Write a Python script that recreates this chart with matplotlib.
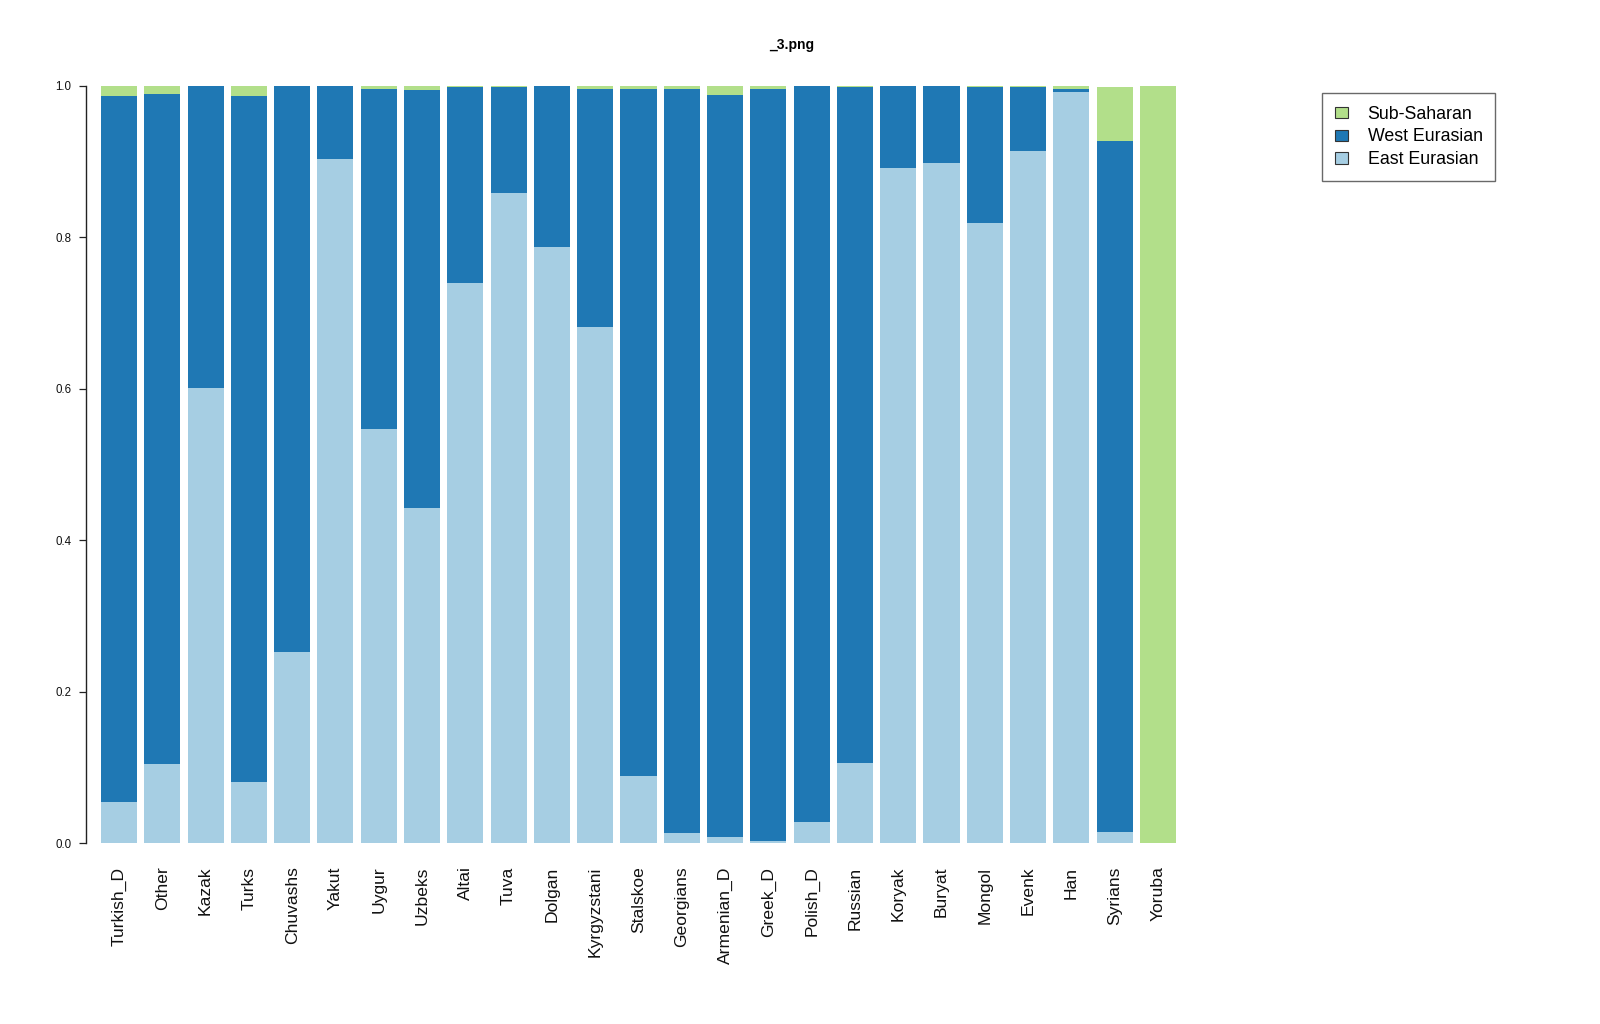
import numpy as np
import matplotlib
matplotlib.use("Agg")
import matplotlib.pyplot as plt
from matplotlib.patches import Patch

plt.rcParams['font.family'] = ['Liberation Sans', 'DejaVu Sans']

populations = ["Turkish_D", "Other", "Kazak", "Turks", "Chuvashs", "Yakut", "Uygur",
               "Uzbeks", "Altai", "Tuva", "Dolgan", "Kyrgyzstani", "Stalskoe",
               "Georgians", "Armenian_D", "Greek_D", "Polish_D", "Russian", "Koryak",
               "Buryat", "Mongol", "Evenk", "Han", "Syrians", "Yoruba"]

east = [0.054, 0.105, 0.601, 0.081, 0.252, 0.904, 0.547, 0.443, 0.740, 0.858,
        0.787, 0.681, 0.089, 0.013, 0.008, 0.003, 0.028, 0.106, 0.892, 0.898,
        0.819, 0.914, 0.992, 0.015, 0.0]
west = [0.9325, 0.884, 0.399, 0.9055, 0.748, 0.096, 0.449, 0.552, 0.2587, 0.1407,
        0.213, 0.315, 0.907, 0.983, 0.980, 0.993, 0.972, 0.8927, 0.108, 0.102,
        0.1797, 0.0847, 0.004, 0.912, 0.0]
sub = [0.0135, 0.011, 0.0, 0.0135, 0.0, 0.0, 0.004, 0.005, 0.0013, 0.0013,
       0.0, 0.004, 0.004, 0.004, 0.012, 0.004, 0.0, 0.0013, 0.0, 0.0,
       0.0013, 0.0013, 0.004, 0.072, 1.0]

c_east = "#A6CEE3"
c_west = "#1F78B4"
c_sub = "#B2DF8A"

W, H = 1600, 1024
fig = plt.figure(figsize=(W / 100, H / 100), dpi=100)

# axes placed in pixel terms to match the reference layout
left_px, right_px, top_px, bot_px = 86, 1219, 86, 843
ax = fig.add_axes([left_px / W, (H - bot_px) / H,
                   (right_px - left_px) / W, (bot_px - top_px) / H])

x = np.arange(len(populations))
step_px = 43.29
first_px = 119
width = 1 / 1.2

east_a = np.array(east)
west_a = np.array(west)
sub_a = np.array(sub)

ax.bar(x, east_a, width=width, color=c_east, linewidth=0)
ax.bar(x, west_a, width=width, bottom=east_a, color=c_west, linewidth=0)
ax.bar(x, sub_a, width=width, bottom=east_a + west_a, color=c_sub, linewidth=0)

ax.set_xlim((left_px - first_px) / step_px, (right_px - first_px) / step_px)
ax.set_ylim(0, 1)

for s in ["top", "right", "bottom"]:
    ax.spines[s].set_visible(False)
ax.spines["left"].set_bounds(0, 1)
ax.spines["left"].set_color("#222222")
ax.spines["left"].set_linewidth(1.0)

ax.set_yticks([0.0, 0.2, 0.4, 0.6, 0.8, 1.0])
ax.set_yticklabels(["0.0", "0.2", "0.4", "0.6", "0.8", "1.0"])
ax.tick_params(axis="y", length=5, width=0.9, color="#222222", pad=5.5,
               labelsize=8.3, labelcolor="#111111")

ax.set_xticks(x)
ax.set_xticklabels(populations, rotation=90, fontsize=12.6, color="#111111")
ax.tick_params(axis="x", length=0, pad=17)

fig.text(792 / W, 1 - 45 / H, "_3.png", ha="center", va="center",
         fontsize=10, fontweight="bold")

handles = [Patch(facecolor=c_sub, edgecolor="#333333", linewidth=0.8, label="Sub-Saharan"),
           Patch(facecolor=c_west, edgecolor="#333333", linewidth=0.8, label="West Eurasian"),
           Patch(facecolor=c_east, edgecolor="#333333", linewidth=0.8, label="East Eurasian")]
leg = fig.legend(handles=handles, loc="upper left",
                 bbox_to_anchor=(1322 / W, 1 - 93 / H),
                 fontsize=12.8, frameon=True, fancybox=False, shadow=False,
                 handlelength=0.75, handleheight=0.6, handletextpad=1.1,
                 labelspacing=0.32, borderpad=0.72, borderaxespad=0)
leg.get_frame().set_edgecolor("#444444")
leg.get_frame().set_linewidth(1.0)

fig.savefig("out.png", dpi=100)
